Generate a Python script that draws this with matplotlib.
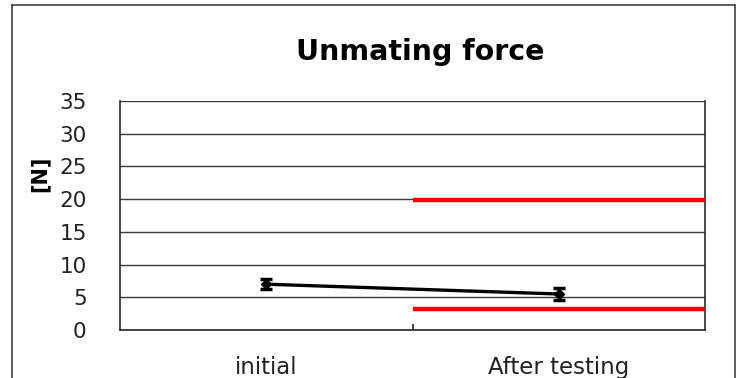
import matplotlib.pyplot as plt
import numpy as np
from matplotlib.lines import Line2D

# Measured unmating force, mean and spread
categories = ["initial", "After testing"]
force_mean = [7.0, 5.5]
force_err = [0.8, 0.9]

# Spec limits shown over the "After testing" span
upper_limit = 19.8
lower_limit = 3.2

y_ticks = [0, 5, 10, 15, 20, 25, 30, 35]

fig = plt.figure(figsize=(7.45, 3.78), dpi=100)
ax = fig.add_axes([120 / 745, 48 / 378, 585 / 745, 229 / 378])

x = np.arange(1, len(categories) + 1)

# gridlines
for t in y_ticks:
    ax.axhline(t, color="#3a3a3a", lw=1.0, zorder=1)

ax.errorbar(x, force_mean, yerr=force_err, color="black", lw=2.4,
            marker="D", markersize=5, capsize=4, capthick=2.5, elinewidth=2.5, zorder=4)

# limit lines span from the category boundary to the right edge
span = (x[-1] - 0.5, x[-1] + 0.5)
ax.hlines([upper_limit, lower_limit], span[0], span[1], color="#ff0000", lw=3.2, zorder=3)

ax.set_xlim(0.5, len(categories) + 0.5)
ax.set_ylim(0, 35)
ax.set_yticks(y_ticks)
ax.tick_params(axis="y", length=0, pad=24, labelsize=15.5, labelcolor="#222222")

# separator tick between categories only
ax.set_xticks(np.arange(1.5, len(categories), 1.0))
ax.set_xticklabels([])
ax.tick_params(axis="x", which="major", length=4, width=1.2, color="#2a2a2a", direction="in")
ax.set_xticks(x, minor=True)
ax.set_xticklabels(categories, minor=True)
ax.tick_params(axis="x", which="minor", length=0, pad=19, labelsize=16.5, labelcolor="#222222")

for s in ["left", "right", "bottom"]:
    ax.spines[s].set_color("#2a2a2a")
    ax.spines[s].set_linewidth(1.2)
ax.spines["top"].set_visible(False)

ax.set_ylabel("[N]", fontsize=15, fontweight="bold", labelpad=0)
ax.yaxis.set_label_coords(-0.12, 0.68)

fig.text(420 / 745, 1 - 52 / 378, "Unmating force", fontsize=20.5, fontweight="bold",
         ha="center", va="center")

# outer chart frame (open at the bottom)
x0, x1, ytop = 12 / 745, 735 / 745, 1 - 5 / 378
for xs, ys in [([x0, x0], [0, ytop]), ([x0, x1], [ytop, ytop]), ([x1, x1], [ytop, 0])]:
    fig.add_artist(Line2D(xs, ys, color="#444444", lw=1.2, transform=fig.transFigure))

fig.savefig("out.png", dpi=100)
